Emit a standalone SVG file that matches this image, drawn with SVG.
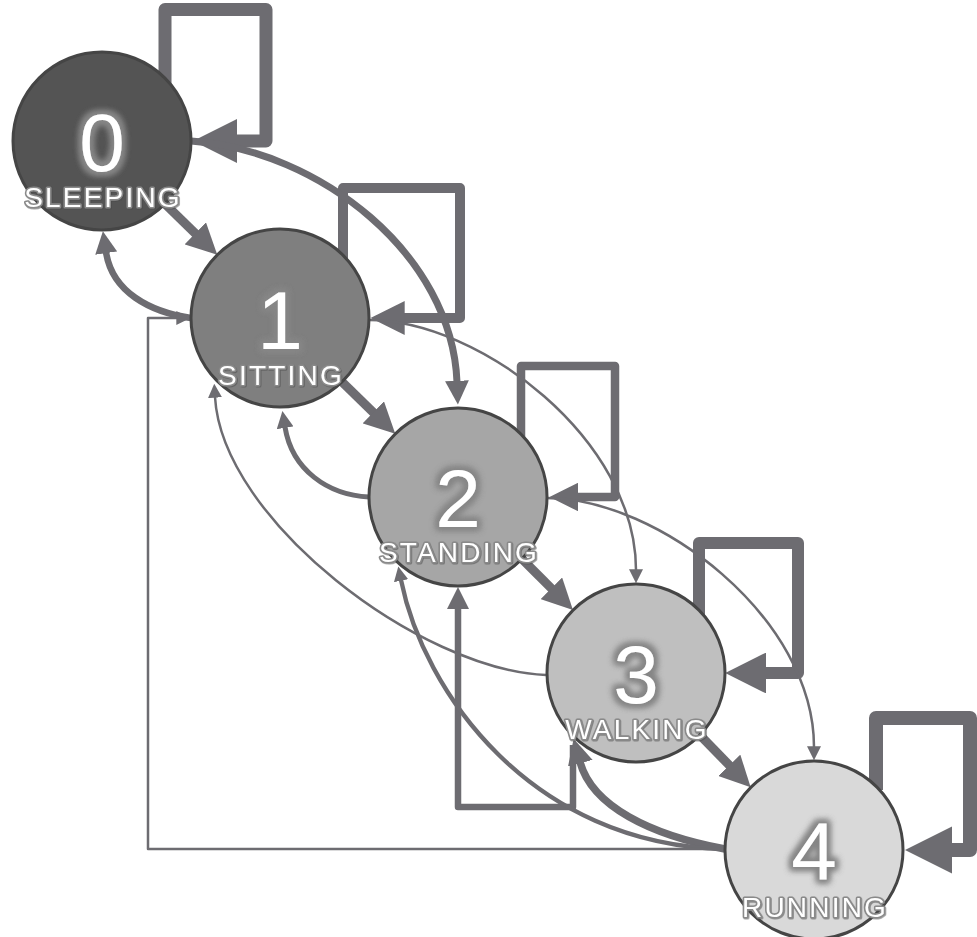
<svg xmlns="http://www.w3.org/2000/svg" width="977" height="937" viewBox="0 0 977 937">
  <style>
    .edge { fill: none; stroke: #6d6c71; stroke-linejoin: round; }
    .node circle { stroke: #454545; stroke-width: 3; }
    .num { font-family: "Liberation Sans", Arial, sans-serif; font-size: 82px; fill: #ffffff; text-anchor: middle; filter: url(#glow); }
    .lbl { font-family: "Liberation Sans", Arial, sans-serif; font-size: 28px; fill: #ffffff; text-anchor: middle; letter-spacing: 2.2px; stroke: #8a8a8a; stroke-width: 3.2; paint-order: stroke; stroke-linejoin: round; filter: url(#shade); }
  </style>
  <defs>
    <marker id="ah" viewBox="0 0 10 10" refX="0.5" refY="5" markerWidth="3.4" markerHeight="3.4" orient="auto" markerUnits="strokeWidth">
      <path d="M0,0 L10,5 L0,10 z" fill="#6d6c71"/>
    </marker>
    <marker id="ah-thin" viewBox="0 0 10 10" refX="0.5" refY="5" markerWidth="5.6" markerHeight="5.6" orient="auto" markerUnits="strokeWidth">
      <path d="M0,0 L10,5 L0,10 z" fill="#6d6c71"/>
    </marker>
    <filter id="glow" x="-50%" y="-50%" width="200%" height="200%">
      <feMorphology in="SourceAlpha" operator="dilate" radius="2.5" result="fat"/>
      <feGaussianBlur in="fat" stdDeviation="3.2" result="soft"/>
      <feFlood flood-color="#868686"/>
      <feComposite in2="soft" operator="in" result="halo"/>
      <feMerge>
        <feMergeNode in="halo"/>
        <feMergeNode in="halo"/>
        <feMergeNode in="SourceGraphic"/>
      </feMerge>
    </filter>
    <filter id="shade" x="-20%" y="-40%" width="140%" height="180%">
      <feDropShadow dx="0.8" dy="0.8" stdDeviation="0.6" flood-color="#444444" flood-opacity="0.6"/>
    </filter>
  </defs>

  <!-- transitions -->
  <g id="connectors">
    <!-- self loops -->
    <path class="edge" stroke-width="13" marker-end="url(#ah)" d="M165,85 V9.5 H266 V141 H235"/>
    <path class="edge" stroke-width="10" marker-end="url(#ah)" d="M343,262 V188 H460 V318 H403"/>
    <path class="edge" stroke-width="8.5" marker-end="url(#ah)" d="M521,440 V366 H615 V497 H577"/>
    <path class="edge" stroke-width="12" marker-end="url(#ah)" d="M699,615 V543 H798 V673 H764"/>
    <path class="edge" stroke-width="14" marker-end="url(#ah)" d="M876,790 V718 H970 V850 H950"/>

    <!-- forward steps -->
    <path class="edge" stroke-width="9" marker-end="url(#ah)" d="M160,199 L196.4,234.4"/>
    <path class="edge" stroke-width="9" marker-end="url(#ah)" d="M338,378 L374.4,413.4"/>
    <path class="edge" stroke-width="9" marker-end="url(#ah)" d="M516,553 L552.4,589.4"/>
    <path class="edge" stroke-width="9" marker-end="url(#ah)" d="M694,729 L730.4,766.4"/>

    <!-- skips forward -->
    <path class="edge" stroke-width="7" marker-end="url(#ah)" d="M191,141 C320,150 452,255 457,382"/>
    <path class="edge" stroke-width="2.5" marker-end="url(#ah-thin)" d="M369,320 C480,320 636,440 636,570"/>
    <path class="edge" stroke-width="2.5" marker-end="url(#ah-thin)" d="M547,498 C658,498 814,618 814,747"/>

    <!-- steps back -->
    <path class="edge" stroke-width="6.5" marker-end="url(#ah)" d="M191,318 C150,312 112,292 106,252"/>
    <path class="edge" stroke-width="5" marker-end="url(#ah)" d="M369,497 C328,495 292,470 285,427"/>
    <path class="edge" stroke-width="6.5" marker-end="url(#ah)" d="M573,745 V807 H458 V608"/>
    <path class="edge" stroke-width="7.5" marker-end="url(#ah)" d="M725,849 C650,835 592,806 580,762"/>

    <!-- long jumps back -->
    <path class="edge" stroke-width="2.5" marker-end="url(#ah-thin)" d="M546,675 C420,670 222,520 215,397"/>
    <path class="edge" stroke-width="4.3" marker-end="url(#ah)" d="M725,849 C530,845 423,690 401,580"/>
    <path class="edge" stroke-width="2.5" stroke-linejoin="miter" marker-end="url(#ah-thin)" d="M725,849 H148 V318 H177"/>
  </g>

  <g id="node-0" class="node">
    <circle cx="102" cy="141" r="89" fill="#545454"/>
    <text class="num" x="102" y="171">0</text>
    <text class="lbl" x="103" y="207">SLEEPING</text>
  </g>
  <g id="node-1" class="node">
    <circle cx="280" cy="318" r="89" fill="#7f7f7f"/>
    <text class="num" x="280" y="349">1</text>
    <text class="lbl" x="281" y="385">SITTING</text>
  </g>
  <g id="node-2" class="node">
    <circle cx="458" cy="497" r="89" fill="#a6a6a6"/>
    <text class="num" x="458" y="527">2</text>
    <text class="lbl" x="459" y="562">STANDING</text>
  </g>
  <g id="node-3" class="node">
    <circle cx="636" cy="673" r="89" fill="#bfbfbf"/>
    <text class="num" x="636" y="703">3</text>
    <text class="lbl" x="637" y="739">WALKING</text>
  </g>
  <g id="node-4" class="node">
    <circle cx="814" cy="850" r="89" fill="#d9d9d9"/>
    <text class="num" x="814" y="880">4</text>
    <text class="lbl" x="815" y="917">RUNNING</text>
  </g>
</svg>
